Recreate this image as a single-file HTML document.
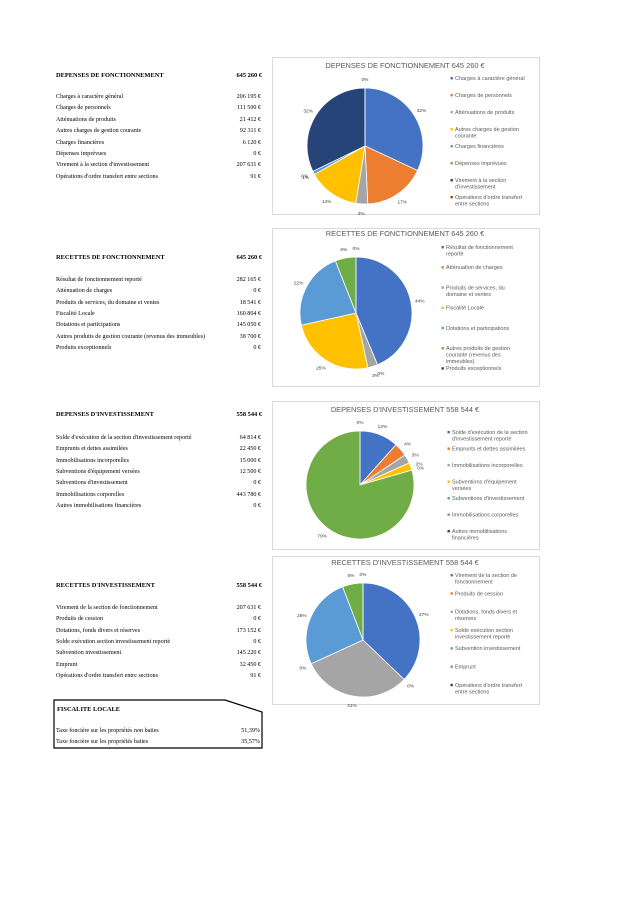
<!DOCTYPE html>
<html><head><meta charset="utf-8">
<style>
body{margin:0;width:636px;height:900px;background:#fff;position:relative;overflow:hidden;font-family:"Liberation Serif",serif;}
.t{position:absolute;font-size:6.1px;color:#000;white-space:nowrap;line-height:7px;}
.b{font-weight:bold;font-size:6.4px;}
.r{text-align:right;width:60px;}
.box{position:absolute;border:1px solid #d9d9d9;background:#fff;}
svg{position:absolute;left:0;top:0;}
</style></head><body>
<div class="box" style="left:272px;top:57px;width:266px;height:156px"></div>
<div class="box" style="left:272px;top:228px;width:266px;height:157px"></div>
<div class="box" style="left:272px;top:401px;width:266px;height:147px"></div>
<div class="box" style="left:272px;top:556px;width:266px;height:147px"></div>
<svg id="fisc" width="636" height="900"><polygon points="54,700 225,700 262,712 262,748 54,748" fill="none" stroke="#000" stroke-width="1.2"/></svg>
<svg id="charts" width="636" height="900"></svg>
<div id="tables"></div>
<script>
// Chart 1: Dépenses de fonctionnement
const cat1=["Charges à caractère général","Charges de personnels","Atténuations de produits","Autres charges de gestion courante","Charges financières","Dépenses imprévues","Virement à la section d'investissement","Opérations d'ordre transfert entre sections"];
const val1=[206195,111500,21412,92311,6120,0,207631,91];
// Chart 2: Recettes de fonctionnement
const cat2=["Résultat de fonctionnement reporté","Atténuation de charges","Produits de services, du domaine et ventes","Fiscalité Locale","Dotations et participations","Autres produits de gestion courante (revenus des immeubles)","Produits exceptionnels"];
const val2=[282165,0,18541,160804,145050,38700,0];
// Chart 3: Dépenses d'investissement
const cat3=["Solde d'exécution de la section d'investissement reporté","Emprunts et dettes assimilées","Immobilisations incorporelles","Subventions d'équipement versées","Subventions d'investissement","Immobilisations corporelles","Autres immobilisations financières"];
const val3=[64814,22450,15000,12500,0,443780,0];
// Chart 4: Recettes d'investissement
const cat4=["Virement de la section de fonctionnement","Produits de cession","Dotations, fonds divers et réserves","Solde exécution section investissement reporté","Subvention investissement","Emprunt","Opérations d'ordre transfert entre sections"];
const val4=[207631,0,173152,0,145220,32450,91];
const titles=["DEPENSES DE FONCTIONNEMENT 645 260 €","RECETTES DE FONCTIONNEMENT 645 260 €","DEPENSES D'INVESTISSEMENT 558 544 €","RECETTES D'INVESTISSEMENT 558 544 €"];
const totals=["645 260 €","645 260 €","558 544 €","558 544 €"];
const tableTitles=["DEPENSES DE FONCTIONNEMENT","RECETTES DE FONCTIONNEMENT","DEPENSES D'INVESTISSEMENT","RECETTES D'INVESTISSEMENT"];

const colors=["#4472C4","#ED7D31","#A5A5A5","#FFC000","#5B9BD5","#70AD47","#264478","#9E480E"];
const NS="http://www.w3.org/2000/svg";
const svg=document.getElementById('charts');
const layouts=[
 {cx:365,cy:146,r:58,ty:68,lx:452,ly:80,ls:17},
 {cx:356,cy:313,r:56,ty:236,lx:443,ly:249,ls:20.2},
 {cx:360,cy:485,r:54,ty:412,lx:449,ly:434,ls:16.5},
 {cx:363,cy:640,r:57,ty:565,lx:452,ly:577,ls:18.3}
];
function fmt(n){return n.toString().replace(/\B(?=(\d{3})+(?!\d))/g,' ')+' €';}
function el(tag,attrs){const e=document.createElementNS(NS,tag);for(const k in attrs)e.setAttribute(k,attrs[k]);svg.appendChild(e);return e;}
function pie(ci,cats,vals){
 const L=layouts[ci];const tot=vals.reduce((a,b)=>a+b,0);
 const t=el('text',{x:405,y:L.ty,'text-anchor':'middle','font-size':'7.4','fill':'#595959','font-family':'Liberation Sans, sans-serif'});
 t.textContent=titles[ci];
 
 
 let a=-Math.PI/2;
 vals.forEach((v,i)=>{
  const ang=v/tot*2*Math.PI;const a2=a+ang;
  if(v>0){
   const x1=L.cx+L.r*Math.cos(a),y1=L.cy+L.r*Math.sin(a),x2=L.cx+L.r*Math.cos(a2),y2=L.cy+L.r*Math.sin(a2);
   const lg=ang>Math.PI?1:0;
   const p=el('path',{d:`M${L.cx},${L.cy}L${x1},${y1}A${L.r},${L.r} 0 ${lg} 1 ${x2},${y2}Z`,fill:colors[i],stroke:'#fff','stroke-width':'0.8'});
   
   
  }
  const m=(a+a2)/2;const lr=L.r+9;
  const lt=el('text',{x:L.cx+lr*Math.cos(m),y:L.cy+lr*Math.sin(m)+2,'text-anchor':'middle','font-size':'4.8','fill':'#404040','font-family':'Liberation Sans, sans-serif'});
  lt.textContent=Math.round(v/tot*100)+'%';
  
  
  a=a2;
 });
 cats.forEach((c,i)=>{
  const y=L.ly+i*L.ls;
  const mk=el('rect',{x:L.lx-1.5,y:y-3,width:2.4,height:2.4,fill:colors[i]});
  
  
  const tx=el('text',{x:L.lx+3,y:y,'font-size':'5.5','fill':'#595959','font-family':'Liberation Sans, sans-serif'});
  
  
  const words=c.split(' ');let lines=[''];
  words.forEach(w=>{const cur=lines[lines.length-1];if((cur+' '+w).length>31&&cur){lines.push(w);}else lines[lines.length-1]=cur?cur+' '+w:w;});
  lines.forEach((ln,j)=>{const ts=document.createElementNS(NS,'tspan');ts.setAttribute('x',L.lx+3);ts.setAttribute('dy',j?6.6:0);ts.textContent=ln;tx.appendChild(ts);});
 });
}
pie(0,cat1,val1);pie(1,cat2,val2);pie(2,cat3,val3);pie(3,cat4,val4);

const tbl=document.getElementById('tables');
const tlay=[{ty:72,ry:94,rs:11.4},{ty:254,ry:277,rs:11.3},{ty:411,ry:435,rs:11.3},{ty:582,ry:605,rs:11.3}];
function div(cls,x,y,txt){const d=document.createElement('div');d.className='t '+cls;d.style.left=x+'px';d.style.top=y+'px';d.textContent=txt;tbl.appendChild(d);return d;}
[[cat1,val1],[cat2,val2],[cat3,val3],[cat4,val4]].forEach(([cats,vals],k)=>{
 const L=tlay[k];
 const h=div('b',56,L.ty,tableTitles[k]);
 
 
 const tv=div('b r',202,L.ty,totals[k]);
 
 
 cats.forEach((c,i)=>{
  const d=div('',56,L.ry+i*L.rs,c);
  
  
  const v=div('r',201,L.ry+i*L.rs,fmt(vals[i]));
  
  
 });
});
const f1=div('b',57,706,'FISCALITE LOCALE');


const fl=[["Taxe foncière sur les propriétés non baties","51,39%",728],["Taxe foncière sur les propriétés baties","35,57%",739]];
fl.forEach(r=>{
 const a=div('',56,r[2],r[0]);
 
 
 const b=div('r',200,r[2],r[1]);
 
 
});
</script>
</body></html>
